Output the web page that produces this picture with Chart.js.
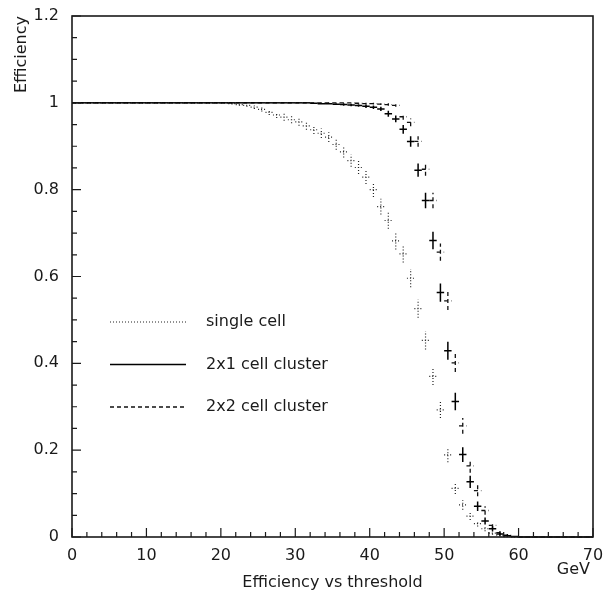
<!DOCTYPE html>
<html>
<head>
<meta charset="utf-8">
<script src="https://cdn.jsdelivr.net/npm/chart.js@4.4.0/dist/chart.umd.min.js"></script>
<style>
  html, body { margin: 0; padding: 0; background: #fff; }
  #wrap { width: 604px; height: 591px; }
</style>
</head>
<body>
<div id="wrap"><canvas id="effChart"></canvas></div>
<script>
// bin centres (GeV)
const thresholds = [
  0.5, 1.5, 2.5, 3.5, 4.5, 5.5, 6.5, 7.5, 8.5, 9.5,
  10.5, 11.5, 12.5, 13.5, 14.5, 15.5, 16.5, 17.5, 18.5, 19.5,
  20.5, 21.5, 22.5, 23.5, 24.5, 25.5, 26.5, 27.5, 28.5, 29.5,
  30.5, 31.5, 32.5, 33.5, 34.5, 35.5, 36.5, 37.5, 38.5, 39.5,
  40.5, 41.5, 42.5, 43.5, 44.5, 45.5, 46.5, 47.5, 48.5, 49.5,
  50.5, 51.5, 52.5, 53.5, 54.5, 55.5, 56.5, 57.5, 58.5, 59.5,
  60.5, 61.5, 62.5, 63.5, 64.5, 65.5, 66.5, 67.5, 68.5, 69.5
];

const singleCell = [
  1, 1, 1, 1, 1, 1, 1, 1, 1, 1,
  1, 1, 1, 1, 1, 1, 1, 1, 1, 1,
  1, 0.998, 0.996, 0.994, 0.990, 0.985, 0.978, 0.972, 0.967, 0.961,
  0.956, 0.947, 0.938, 0.930, 0.921, 0.904, 0.887, 0.867, 0.851, 0.829,
  0.800, 0.761, 0.729, 0.682, 0.652, 0.596, 0.526, 0.453, 0.370, 0.293,
  0.189, 0.112, 0.074, 0.048, 0.031, 0.019, 0.009, 0.004, 0.001, 0,
  0, 0, 0, 0, 0, 0, 0, 0, 0, 0
];
const singleCellErr = [
  0, 0, 0, 0, 0, 0, 0, 0, 0, 0,
  0, 0, 0, 0, 0, 0, 0, 0, 0, 0,
  0, 0.002, 0.003, 0.003, 0.004, 0.005, 0.006, 0.007, 0.008, 0.008,
  0.009, 0.009, 0.010, 0.011, 0.011, 0.012, 0.013, 0.014, 0.015, 0.016,
  0.017, 0.018, 0.019, 0.020, 0.020, 0.021, 0.021, 0.021, 0.020, 0.019,
  0.017, 0.013, 0.011, 0.009, 0.007, 0.006, 0.004, 0.003, 0.001, 0,
  0, 0, 0, 0, 0, 0, 0, 0, 0, 0
];

const cluster2x1 = [
  1, 1, 1, 1, 1, 1, 1, 1, 1, 1,
  1, 1, 1, 1, 1, 1, 1, 1, 1, 1,
  1, 1, 1, 1, 1, 1, 1, 1, 1, 1,
  1, 1, 0.999, 0.998, 0.998, 0.997, 0.996, 0.995, 0.994, 0.992,
  0.990, 0.986, 0.975, 0.963, 0.939, 0.911, 0.845, 0.775, 0.683, 0.563,
  0.429, 0.312, 0.190, 0.127, 0.071, 0.037, 0.019, 0.007, 0.003, 0.001,
  0, 0, 0, 0, 0, 0, 0, 0, 0, 0
];
const cluster2x1Err = [
  0, 0, 0, 0, 0, 0, 0, 0, 0, 0,
  0, 0, 0, 0, 0, 0, 0, 0, 0, 0,
  0, 0, 0, 0, 0, 0, 0, 0, 0, 0,
  0, 0, 0.001, 0.002, 0.002, 0.002, 0.003, 0.003, 0.003, 0.004,
  0.004, 0.005, 0.007, 0.008, 0.010, 0.012, 0.015, 0.018, 0.020, 0.021,
  0.021, 0.020, 0.017, 0.014, 0.011, 0.008, 0.006, 0.004, 0.002, 0.001,
  0, 0, 0, 0, 0, 0, 0, 0, 0, 0
];

const cluster2x2 = [
  1, 1, 1, 1, 1, 1, 1, 1, 1, 1,
  1, 1, 1, 1, 1, 1, 1, 1, 1, 1,
  1, 1, 1, 1, 1, 1, 1, 1, 1, 1,
  1, 1, 1, 1, 1, 1, 1, 1, 0.999, 0.998,
  0.998, 0.997, 0.996, 0.994, 0.968, 0.955, 0.911, 0.847, 0.775, 0.656,
  0.544, 0.401, 0.256, 0.164, 0.107, 0.061, 0.027, 0.010, 0.004, 0.001,
  0, 0, 0, 0, 0, 0, 0, 0, 0, 0
];
const cluster2x2Err = [
  0, 0, 0, 0, 0, 0, 0, 0, 0, 0,
  0, 0, 0, 0, 0, 0, 0, 0, 0, 0,
  0, 0, 0, 0, 0, 0, 0, 0, 0, 0,
  0, 0, 0, 0, 0, 0, 0, 0, 0.001, 0.002,
  0.002, 0.002, 0.003, 0.003, 0.007, 0.009, 0.012, 0.015, 0.018, 0.020,
  0.021, 0.021, 0.018, 0.016, 0.013, 0.010, 0.007, 0.004, 0.003, 0.001,
  0, 0, 0, 0, 0, 0, 0, 0, 0, 0
];

const seriesLabels = ['single cell', '2x1 cell cluster', '2x2 cell cluster'];
const xTickValues = [0, 10, 20, 30, 40, 50, 60, 70];
const xTickLabels = ['0', '10', '20', '30', '40', '50', '60', '70'];
const yTickValues = [0, 0.2, 0.4, 0.6, 0.8, 1, 1.2];
const yTickLabels = ['0', '0.2', '0.4', '0.6', '0.8', '1', '1.2'];

const FONT = '"DejaVu Sans", sans-serif';
const INK = '#1a1a1a';
const BIN_HALF = 0.5;

function points(vals, errs) {
  return thresholds.map((t, i) => ({ x: t, y: vals[i], err: errs[i] }));
}

// crosses: horizontal bar = bin width, vertical bar = error
const errorCrosses = {
  id: 'errorCrosses',
  afterDatasetsDraw(chart) {
    const { ctx } = chart;
    const x = chart.scales.x, y = chart.scales.y;
    ctx.save();
    // solid one last so it ends on top
    [2, 0, 1].forEach(i => {
      const ds = chart.data.datasets[i];
      ctx.strokeStyle = ds.borderColor;
      ctx.lineWidth = ds.borderWidth;
      ctx.setLineDash(ds.borderDash || []);
      ds.data.forEach(p => {
        const px = x.getPixelForValue(p.x);
        const py = y.getPixelForValue(p.y);
        ctx.beginPath();
        ctx.moveTo(x.getPixelForValue(p.x - BIN_HALF), py);
        ctx.lineTo(x.getPixelForValue(p.x + BIN_HALF), py);
        if (p.err > 0) {
          ctx.moveTo(px, y.getPixelForValue(p.y - p.err));
          ctx.lineTo(px, y.getPixelForValue(p.y + p.err));
        }
        ctx.stroke();
      });
    });
    ctx.restore();
  }
};

// frame, inward ticks, legend and titles
const decorations = {
  id: 'decorations',
  afterDraw(chart) {
    const { ctx, chartArea: a } = chart;
    const x = chart.scales.x, y = chart.scales.y;
    ctx.save();
    ctx.strokeStyle = INK;
    ctx.setLineDash([]);
    ctx.lineWidth = 1.6;
    ctx.strokeRect(a.left, a.top, a.right - a.left, a.bottom - a.top);

    ctx.lineWidth = 1.2;
    ctx.beginPath();
    for (let v = 0; v <= 70; v += 2) {
      const px = x.getPixelForValue(v);
      const len = v % 10 === 0 ? 9 : 5;
      ctx.moveTo(px, a.bottom);
      ctx.lineTo(px, a.bottom - len);
    }
    for (let k = 0; k <= 24; k++) {
      const py = y.getPixelForValue(k * 0.05);
      const len = k % 4 === 0 ? 9 : 5;
      ctx.moveTo(a.left, py);
      ctx.lineTo(a.left + len, py);
    }
    ctx.stroke();

    // legend inside the plot
    ctx.font = '16px ' + FONT;
    ctx.fillStyle = INK;
    ctx.textBaseline = 'middle';
    ctx.textAlign = 'left';
    chart.data.datasets.forEach((ds, i) => {
      const ly = a.top + 306 + i * 42.5;
      ctx.strokeStyle = ds.borderColor;
      ctx.lineWidth = ds.borderWidth;
      ctx.setLineDash(ds.borderDash || []);
      ctx.beginPath();
      ctx.moveTo(a.left + 38, ly);
      ctx.lineTo(a.left + 114, ly);
      ctx.stroke();
      ctx.fillText(ds.label, a.left + 134, ly);
    });

    ctx.setLineDash([]);
    ctx.textBaseline = 'alphabetic';
    ctx.textAlign = 'right';
    ctx.fillText('GeV', a.right - 3, a.bottom + 37);
    ctx.textAlign = 'center';
    ctx.fillText('Efficiency vs threshold', (a.left + a.right) / 2, a.bottom + 50);

    ctx.translate(26, a.top);
    ctx.rotate(-Math.PI / 2);
    ctx.textAlign = 'right';
    ctx.fillText('Efficiency', 0, 0);
    ctx.restore();
  }
};

const ctx = document.getElementById('effChart').getContext('2d');
ctx.letterSpacing = '1.2px';

const effChart = new Chart(ctx, {
  type: 'scatter',
  data: {
    datasets: [
      {
        label: seriesLabels[0],
        data: points(singleCell, singleCellErr),
        borderColor: '#222',
        borderWidth: 1.2,
        borderDash: [1, 2]
      },
      {
        label: seriesLabels[1],
        data: points(cluster2x1, cluster2x1Err),
        borderColor: '#000',
        borderWidth: 1.5,
        borderDash: []
      },
      {
        label: seriesLabels[2],
        data: points(cluster2x2, cluster2x2Err),
        borderColor: '#111',
        borderWidth: 1.3,
        borderDash: [4, 3]
      }
    ]
  },
  options: {
    responsive: true,
    maintainAspectRatio: false,
    animation: false,
    elements: { point: { radius: 0, hoverRadius: 0 } },
    layout: { padding: { top: 16, right: 11, left: 0, bottom: 0 } },
    plugins: {
      legend: { display: false },
      tooltip: { enabled: false }
    },
    scales: {
      x: {
        type: 'linear',
        min: 0,
        max: 70,
        grid: { display: false, drawTicks: false },
        border: { display: false },
        afterBuildTicks: s => { s.ticks = xTickValues.map(v => ({ value: v })); },
        afterFit: s => { s.height = 54; s.paddingLeft = 0; s.paddingRight = 0; },
        ticks: {
          color: INK,
          padding: 9,
          maxRotation: 0,
          autoSkip: false,
          font: { family: FONT, size: 16 },
          callback: (v, i) => xTickLabels[i]
        }
      },
      y: {
        min: 0,
        max: 1.2,
        grid: { display: false, drawTicks: false },
        border: { display: false },
        afterBuildTicks: s => { s.ticks = yTickValues.map(v => ({ value: v })); },
        afterFit: s => { s.width = 72; s.paddingTop = 0; s.paddingBottom = 0; },
        ticks: {
          color: INK,
          padding: 13,
          autoSkip: false,
          font: { family: FONT, size: 16 },
          callback: (v, i) => yTickLabels[i]
        }
      }
    }
  },
  plugins: [errorCrosses, decorations]
});
</script>
</body>
</html>
